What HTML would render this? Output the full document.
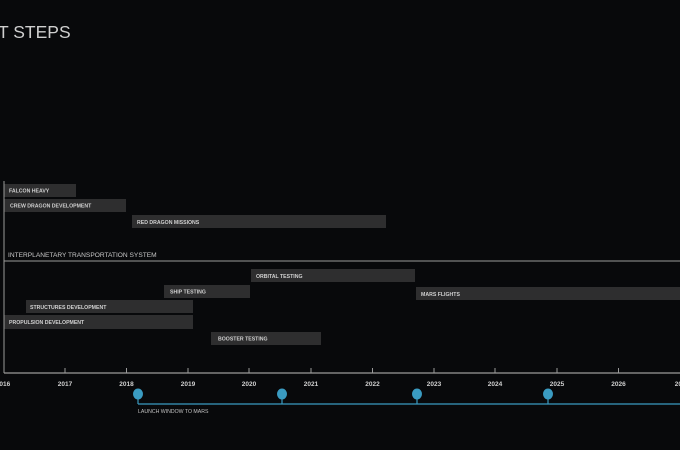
<!DOCTYPE html>
<html><head><meta charset="utf-8"><style>
html,body{margin:0;padding:0;background:#08090b;}
svg{display:block}
</style></head><body>
<svg width="680" height="450" viewBox="0 0 680 450" xmlns="http://www.w3.org/2000/svg">
<rect width="680" height="450" fill="#08090b"/>
<text x="-2" y="38" font-family="Liberation Sans, sans-serif" font-size="17.5" fill="#cfcfcf">T STEPS</text>
<g fill="#2e2e2f">
<rect x="4" y="184" width="72" height="13"/>
<rect x="4" y="199" width="122" height="13"/>
<rect x="132" y="215" width="254" height="13"/>
<rect x="251" y="269" width="164" height="13"/>
<rect x="164" y="285" width="86" height="13"/>
<rect x="416" y="287" width="264" height="13"/>
<rect x="26" y="300" width="167" height="13"/>
<rect x="4" y="315" width="189" height="14"/>
<rect x="211" y="332" width="110" height="13"/>
</g>
<g font-family="Liberation Sans, sans-serif" font-size="5.2" font-weight="bold" fill="#d0d0d0">
<text x="9" y="192.5">FALCON HEAVY</text>
<text x="10" y="207.5">CREW DRAGON DEVELOPMENT</text>
<text x="137" y="224">RED DRAGON MISSIONS</text>
<text x="256" y="278">ORBITAL TESTING</text>
<text x="170" y="293.5">SHIP TESTING</text>
<text x="421" y="296">MARS FLIGHTS</text>
<text x="30" y="309">STRUCTURES DEVELOPMENT</text>
<text x="9" y="324">PROPULSION DEVELOPMENT</text>
<text x="218" y="340.5">BOOSTER TESTING</text>
</g>
<text x="8" y="257" font-family="Liberation Sans, sans-serif" font-size="6.6" fill="#c8c8c8">INTERPLANETARY TRANSPORTATION SYSTEM</text>
<line x1="4" y1="261" x2="680" y2="261" stroke="#9a9a9a" stroke-width="1"/>
<line x1="4" y1="181" x2="4" y2="373" stroke="#9a9a9a" stroke-width="1"/>
<line x1="4" y1="373" x2="680" y2="373" stroke="#9a9a9a" stroke-width="1.2"/>
<g stroke="#9a9a9a" stroke-width="1">
<line x1="65" y1="368" x2="65" y2="373"/><line x1="126.5" y1="368" x2="126.5" y2="373"/>
<line x1="188" y1="368" x2="188" y2="373"/><line x1="249" y1="368" x2="249" y2="373"/>
<line x1="311" y1="368" x2="311" y2="373"/><line x1="372.5" y1="368" x2="372.5" y2="373"/>
<line x1="434" y1="368" x2="434" y2="373"/><line x1="495" y1="368" x2="495" y2="373"/>
<line x1="557" y1="368" x2="557" y2="373"/><line x1="618.5" y1="368" x2="618.5" y2="373"/>
</g>
<g font-family="Liberation Sans, sans-serif" font-size="6.5" font-weight="bold" fill="#d0d0d0" text-anchor="middle">
<text x="3" y="386">2016</text><text x="65" y="386">2017</text><text x="126.5" y="386">2018</text>
<text x="188" y="386">2019</text><text x="249" y="386">2020</text><text x="311" y="386">2021</text>
<text x="372.5" y="386">2022</text><text x="434" y="386">2023</text><text x="495" y="386">2024</text>
<text x="557" y="386">2025</text><text x="618.5" y="386">2026</text><text x="682" y="386">2027</text>
</g>
<g stroke="#3a9bc1" stroke-width="1.2" fill="none">
<line x1="138" y1="404" x2="680" y2="404"/>
<line x1="138" y1="394" x2="138" y2="404"/><line x1="282" y1="394" x2="282" y2="404"/>
<line x1="417" y1="394" x2="417" y2="404"/><line x1="548" y1="394" x2="548" y2="404"/>
</g>
<g fill="#3a9bc1">
<ellipse cx="138" cy="394" rx="5" ry="5.5"/><ellipse cx="282" cy="394" rx="5" ry="5.5"/>
<ellipse cx="417" cy="394" rx="5" ry="5.5"/><ellipse cx="548" cy="394" rx="5" ry="5.5"/>
</g>
<text x="138" y="413" font-family="Liberation Sans, sans-serif" font-size="5.2" fill="#c0c0c0">LAUNCH WINDOW TO MARS</text>
</svg>
</body></html>
